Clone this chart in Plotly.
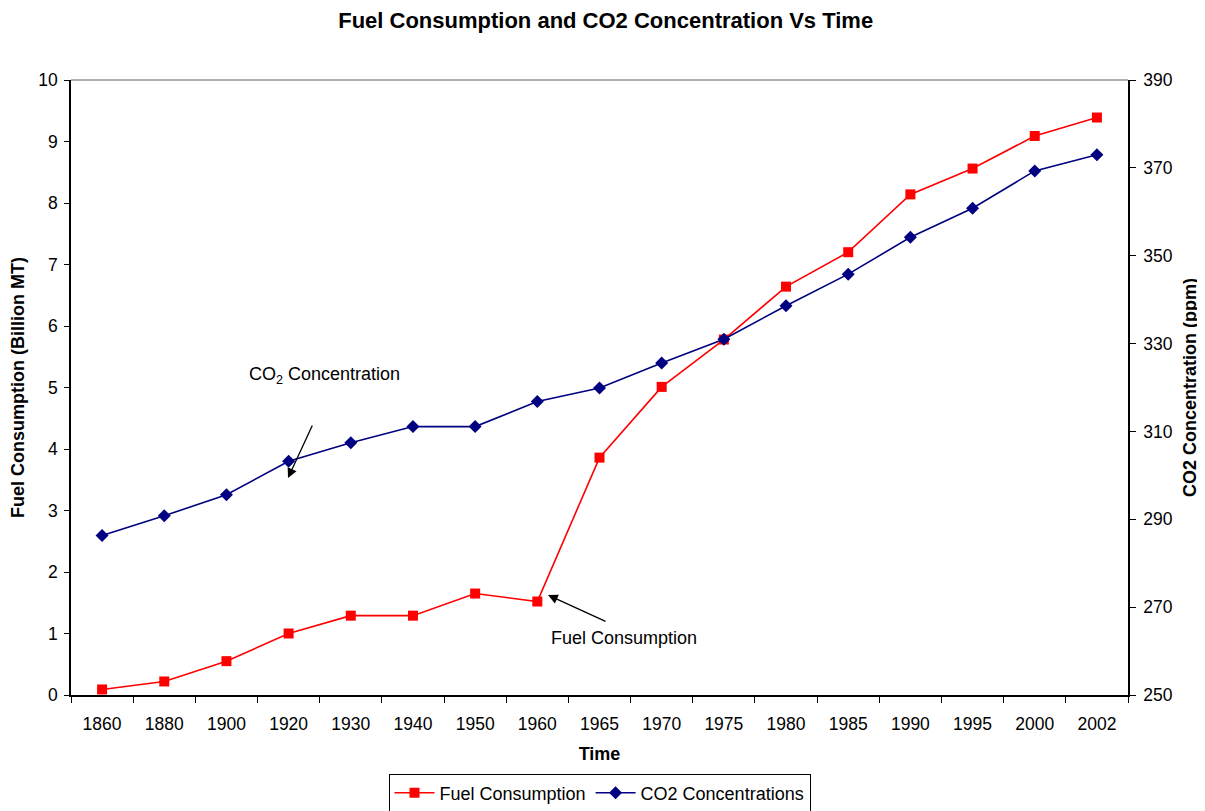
import plotly.graph_objects as go

# ── Data ────────────────────────────────────────────────────────────────────
years = ["1860", "1880", "1900", "1920", "1930", "1940", "1950", "1960", "1965",
         "1970", "1975", "1980", "1985", "1990", "1995", "2000", "2002"]
fuel = [0.09, 0.22, 0.55, 1.0, 1.29, 1.29, 1.65, 1.52, 3.86,
        5.01, 5.78, 6.64, 7.2, 8.14, 8.56, 9.09, 9.39]
co2 = [286.3, 290.8, 295.6, 303.2, 307.4, 311.1, 311.1, 316.8, 319.9,
       325.6, 331.0, 338.6, 345.8, 354.2, 360.8, 369.3, 373.0]

left_ticks = list(range(0, 11))
right_ticks = list(range(250, 391, 20))

_RED = "#FF0000"
_NAVY = "#000080"
_FONT = dict(family="Liberation Sans, Arial, sans-serif", color="#000000")

fig = go.Figure()

fig.add_trace(go.Scatter(
    x=years, y=fuel, mode="lines+markers", name="Fuel Consumption",
    line=dict(color=_RED, width=1.6),
    marker=dict(symbol="square", size=10, color=_RED),
    yaxis="y",
))
fig.add_trace(go.Scatter(
    x=years, y=co2, mode="lines+markers", name="CO2 Concentrations",
    line=dict(color=_NAVY, width=1.6),
    marker=dict(symbol="diamond", size=10, color=_NAVY),
    yaxis="y2",
))

# ── Callouts ────────────────────────────────────────────────────────────────
fig.add_annotation(
    text="CO<sub>2</sub> Concentration", xref="paper", yref="paper",
    x=0.2394, y=0.520, xanchor="center", yanchor="middle",
    showarrow=False, font=dict(size=18),
)
fig.add_annotation(
    text="", xref="paper", yref="paper", x=0.2053, y=0.3528,
    ax=25, ay=-54, showarrow=True, arrowhead=2, arrowsize=1.5,
    arrowwidth=1.3, arrowcolor="#000000",
)
fig.add_annotation(
    text="Fuel Consumption", xref="paper", yref="paper",
    x=0.523, y=0.0927, xanchor="center", yanchor="middle",
    showarrow=False, font=dict(size=18),
)
fig.add_annotation(
    text="", xref="paper", yref="paper", x=0.4513, y=0.1626,
    ax=59, ay=27, showarrow=True, arrowhead=2, arrowsize=1.5,
    arrowwidth=1.3, arrowcolor="#000000",
)

# top frame line of the plot area
fig.add_shape(type="line", xref="paper", yref="paper", x0=0, x1=1, y0=1, y1=1,
              line=dict(color="#606060", width=1))

fig.update_layout(
    width=1205, height=811,
    paper_bgcolor="#FFFFFF", plot_bgcolor="#FFFFFF",
    font=dict(size=17.5, **_FONT),
    margin=dict(l=63, r=85, t=72, b=124),
    title=dict(
        text="<b>Fuel Consumption and CO2 Concentration Vs Time</b>",
        x=0.496, xanchor="center", y=0.985, yanchor="middle",
        font=dict(size=22),
    ),
    xaxis=dict(
        type="category", range=[-0.5, 16.5], automargin=False,
        showgrid=False, zeroline=False,
        showline=True, linecolor="#000000", linewidth=1.5,
        ticks="outside", ticklen=6, tickcolor="#000000", tickson="boundaries",
        tickfont=dict(size=17.5), ticklabelstandoff=12,
        title=dict(text="<b>Time</b>", font=dict(size=18), standoff=15),
    ),
    yaxis=dict(
        range=[0, 10], tickvals=left_ticks, automargin=False,
        showgrid=False, zeroline=False,
        showline=True, linecolor="#000000", linewidth=1.5,
        ticks="outside", ticklen=5, tickcolor="#000000",
        tickfont=dict(size=17.5), ticklabelstandoff=3,
        title=dict(text="<b>Fuel Consumption (Billion MT)</b>",
                   font=dict(size=18), standoff=12),
    ),
    yaxis2=dict(
        range=[250, 390], tickvals=right_ticks, overlaying="y", side="right",
        automargin=False, showgrid=False, zeroline=False,
        showline=True, linecolor="#000000", linewidth=1.5,
        ticks="outside", ticklen=6, tickcolor="#000000",
        tickfont=dict(size=17.5), ticklabelstandoff=4,
        title=dict(text="<b>CO2 Concentration (ppm)</b>",
                   font=dict(size=18), standoff=12),
    ),
    legend=dict(
        orientation="h", xref="paper", x=0.5, xanchor="center",
        yref="container", y=0.056, yanchor="top",
        bordercolor="#000000", borderwidth=1, bgcolor="#FFFFFF",
        font=dict(size=18), itemwidth=40, tracegroupgap=0,
    ),
    showlegend=True,
)

fig.write_html("out.html")
